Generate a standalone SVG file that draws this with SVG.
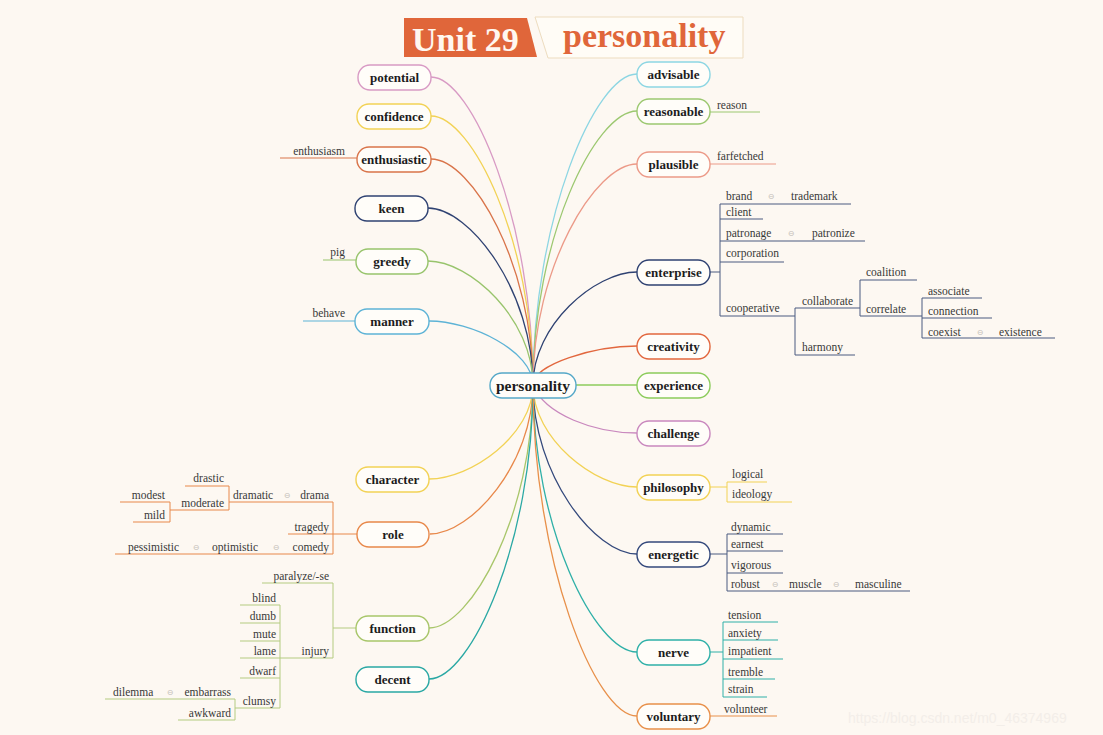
<svg xmlns="http://www.w3.org/2000/svg" width="1103" height="735" viewBox="0 0 1103 735">
<style>
.nr{fill:#fffdf9;stroke-width:1.4}
.nt{font-family:"Liberation Serif",serif;font-weight:bold;font-size:13px;fill:#1c1c1c;text-anchor:middle}
.big{font-size:15.5px}
.st{font-family:"Liberation Serif",serif;font-size:11.5px;fill:#383838}
.e{text-anchor:end}
.c{fill:none;stroke-width:1.3}
.s{fill:none;stroke-width:1}
.sym{font-family:"DejaVu Sans",sans-serif;font-size:8px;fill:#c4beb8;text-anchor:middle}
</style>
<rect width="1103" height="735" fill="#fdf8f2"/>
<g id="title">
<polygon points="535,17 743,17 743,58 548,58" fill="#fffcf6" stroke="#eddcbf" stroke-width="1"/>
<polygon points="404,18 527,18 537,57 404,57" fill="#e0663a"/>
<text x="412" y="51" font-family="Liberation Serif,serif" font-weight="bold" font-size="34" fill="#fff7f0">Unit 29</text>
<text x="563" y="47" font-family="Liberation Serif,serif" font-weight="bold" font-size="34" fill="#e0663a">personality</text>
</g>
<g id="connectors">
<path class="c" stroke="#d89ac4" d="M533,385 C533,222 472,77 431,77"/>
<path class="c" stroke="#f2d255" d="M533,385 C533,242 472,116 431,116"/>
<path class="c" stroke="#d9744a" d="M533,385 C533,265 472,159 431,159"/>
<path class="c" stroke="#2f4272" d="M533,385 C533,291 470,208 428,208"/>
<path class="c" stroke="#98c46c" d="M533,385 C533,319 470,261 428,261"/>
<path class="c" stroke="#5db3d6" d="M533,385 C533,351 471,321 429,321"/>
<path class="c" stroke="#f2d255" d="M533,385 C533,435 471,479 429,479"/>
<path class="c" stroke="#e8884a" d="M533,385 C533,464 471,534 430,534"/>
<path class="c" stroke="#a8c66a" d="M533,385 C533,514 471,628 429,628"/>
<path class="c" stroke="#2aa8a4" d="M533,385 C533,541 471,679 429,679"/>
<path class="c" stroke="#8dd6e3" d="M533,385 C533,220 595,74 637,74"/>
<path class="c" stroke="#9cc870" d="M533,385 C533,240 595,111 637,111"/>
<path class="c" stroke="#ec9a88" d="M533,385 C533,268 595,164 637,164"/>
<path class="c" stroke="#2f4272" d="M533,385 C533,325 595,272 637,272"/>
<path class="c" stroke="#e2673e" d="M533,385 C533,364 595,346 637,346"/>
<path class="c" stroke="#8ccc5c" d="M533,385 L637,385"/>
<path class="c" stroke="#c988be" d="M533,385 C545,415 595,433 637,433"/>
<path class="c" stroke="#f2d255" d="M533,385 C533,439 595,487 637,487"/>
<path class="c" stroke="#34497c" d="M533,385 C533,475 595,554 637,554"/>
<path class="c" stroke="#2fb0a8" d="M533,385 C533,527 595,652 637,652"/>
<path class="c" stroke="#e8904a" d="M533,385 C533,560 595,716 637,716"/>
<path class="s" stroke="#d9744a" d="M280,158 H357"/>
<path class="s" stroke="#98c46c" d="M323,260 H356"/>
<path class="s" stroke="#5db3d6" d="M303,321 H355"/>
<path class="s" stroke="#9cc870" d="M710,112 H760"/>
<path class="s" stroke="#ec9a88" d="M710,164 H776"/>
<path class="s" stroke="#4a5a80" d="M710,272 H720 M720,204 V316 M720,204 H851 M720,219 H763 M720,241 H865 M720,262 H784 M720,316 H795 M795,308 V355 M795,308 H860 M795,355 H855 M860,280 V316 M860,280 H917 M860,316 H922 M922,298 V338 M922,298 H982 M922,318 H992 M922,338 H1055"/>
<path class="s" stroke="#f2d255" d="M710,487 H727 M727,482 V502 M727,482 H767 M727,502 H792"/>
<path class="s" stroke="#4a5a80" d="M710,554 H727 M727,534 V591 M727,534 H783 M727,551 H783 M727,573 H783 M727,591 H910"/>
<path class="s" stroke="#2fb0a8" d="M710,652 H723 M723,622 V697 M723,622 H778 M723,640 H778 M723,659 H783 M723,679 H775 M723,697 H767"/>
<path class="s" stroke="#e8904a" d="M710,716 H777"/>
<path class="s" stroke="#e8884a" d="M288,534 H357 M333,502 V554 M229,502 H333 M115,554 H333 M229,486 V510 M185,486 H229 M170,510 H229 M170,502 V522 M120,502 H170 M133,522 H170"/>
<path class="s" stroke="#b4cb80" d="M333,628 H357 M333,583 V658 M262,583 H333 M240,658 H333 M280,605 V708 M240,605 H280 M240,623 H280 M240,641 H280 M240,678 H280 M235,708 H280 M235,699 V720 M105,699 H235 M178,720 H235"/>
</g>
<g id="n-personality"><rect class="nr" x="490" y="373" width="86" height="25" rx="12" stroke="#55a8c8" stroke-width="1.6"/><text class="nt big" x="533" y="390.5">personality</text></g>
<g id="n-potential"><rect class="nr" x="358" y="65" width="73" height="25" rx="12" stroke="#d89ac4"/><text class="nt" x="394.5" y="82">potential</text></g>
<g id="n-confidence"><rect class="nr" x="357" y="104" width="74" height="25" rx="12" stroke="#f2d255"/><text class="nt" x="394" y="121">confidence</text></g>
<g id="n-enthusiastic"><rect class="nr" x="357" y="147" width="74" height="25" rx="12" stroke="#d9744a"/><text class="nt" x="394" y="164">enthusiastic</text><text class="st e" x="345" y="155">enthusiasm</text></g>
<g id="n-keen"><rect class="nr" x="355" y="196" width="73" height="25" rx="12" stroke="#2f4272"/><text class="nt" x="391.5" y="213">keen</text></g>
<g id="n-greedy"><rect class="nr" x="356" y="249" width="72" height="25" rx="12" stroke="#98c46c"/><text class="nt" x="392" y="266">greedy</text><text class="st e" x="345" y="256">pig</text></g>
<g id="n-manner"><rect class="nr" x="355" y="309" width="74" height="25" rx="12" stroke="#5db3d6"/><text class="nt" x="392" y="326">manner</text><text class="st e" x="345" y="317">behave</text></g>
<g id="n-character"><rect class="nr" x="356" y="467" width="73" height="25" rx="12" stroke="#f2d255"/><text class="nt" x="392.5" y="484">character</text></g>
<g id="n-role"><rect class="nr" x="357" y="522" width="72" height="25" rx="12" stroke="#e8884a"/><text class="nt" x="393" y="539">role</text>
<text class="st e" x="224" y="482">drastic</text><text class="st e" x="224" y="507">moderate</text><text class="st e" x="165" y="499">modest</text><text class="st e" x="165" y="519">mild</text>
<text class="st" x="233" y="499">dramatic</text><text class="sym" x="287" y="498">⊖</text><text class="st e" x="329" y="499">drama</text>
<text class="st e" x="329" y="531">tragedy</text>
<text class="st" x="128" y="551">pessimistic</text><text class="sym" x="196" y="550">⊖</text><text class="st" x="212" y="551">optimistic</text><text class="sym" x="276" y="550">⊖</text><text class="st e" x="329" y="551">comedy</text></g>
<g id="n-function"><rect class="nr" x="356" y="616" width="73" height="25" rx="12" stroke="#a8c66a"/><text class="nt" x="392.5" y="633">function</text>
<text class="st e" x="329" y="580">paralyze/-se</text><text class="st e" x="329" y="655">injury</text>
<text class="st e" x="276" y="602">blind</text><text class="st e" x="276" y="620">dumb</text><text class="st e" x="276" y="638">mute</text><text class="st e" x="276" y="655">lame</text><text class="st e" x="276" y="675">dwarf</text><text class="st e" x="276" y="705">clumsy</text>
<text class="st" x="113" y="696">dilemma</text><text class="sym" x="170" y="695">⊖</text><text class="st e" x="231" y="696">embarrass</text><text class="st e" x="231" y="717">awkward</text></g>
<g id="n-decent"><rect class="nr" x="356" y="667" width="73" height="25" rx="12" stroke="#2aa8a4"/><text class="nt" x="392.5" y="684">decent</text></g>
<g id="n-advisable"><rect class="nr" x="637" y="62" width="73" height="25" rx="12" stroke="#8dd6e3"/><text class="nt" x="673.5" y="79">advisable</text></g>
<g id="n-reasonable"><rect class="nr" x="637" y="99" width="73" height="25" rx="12" stroke="#9cc870"/><text class="nt" x="673.5" y="116">reasonable</text><text class="st" x="717" y="109">reason</text></g>
<g id="n-plausible"><rect class="nr" x="637" y="152" width="73" height="25" rx="12" stroke="#ec9a88"/><text class="nt" x="673.5" y="169">plausible</text><text class="st" x="717" y="160">farfetched</text></g>
<g id="n-enterprise"><rect class="nr" x="637" y="260" width="73" height="25" rx="12" stroke="#2f4272"/><text class="nt" x="673.5" y="277">enterprise</text>
<text class="st" x="726" y="200">brand</text><text class="sym" x="771" y="199">⊖</text><text class="st" x="791" y="200">trademark</text>
<text class="st" x="726" y="216">client</text>
<text class="st" x="726" y="237">patronage</text><text class="sym" x="791" y="236">⊖</text><text class="st" x="812" y="237">patronize</text>
<text class="st" x="726" y="257">corporation</text><text class="st" x="726" y="312">cooperative</text>
<text class="st" x="802" y="305">collaborate</text><text class="st" x="802" y="351">harmony</text>
<text class="st" x="866" y="276">coalition</text><text class="st" x="866" y="313">correlate</text>
<text class="st" x="928" y="295">associate</text><text class="st" x="928" y="315">connection</text>
<text class="st" x="928" y="336">coexist</text><text class="sym" x="980" y="335">⊖</text><text class="st" x="999" y="336">existence</text></g>
<g id="n-creativity"><rect class="nr" x="637" y="334" width="73" height="25" rx="12" stroke="#e2673e"/><text class="nt" x="673.5" y="351">creativity</text></g>
<g id="n-experience"><rect class="nr" x="637" y="373" width="73" height="25" rx="12" stroke="#8ccc5c"/><text class="nt" x="673.5" y="390">experience</text></g>
<g id="n-challenge"><rect class="nr" x="637" y="421" width="73" height="25" rx="12" stroke="#c988be"/><text class="nt" x="673.5" y="438">challenge</text></g>
<g id="n-philosophy"><rect class="nr" x="637" y="475" width="73" height="25" rx="12" stroke="#f2d255"/><text class="nt" x="673.5" y="492">philosophy</text><text class="st" x="732" y="478">logical</text><text class="st" x="732" y="498">ideology</text></g>
<g id="n-energetic"><rect class="nr" x="637" y="542" width="73" height="25" rx="12" stroke="#34497c"/><text class="nt" x="673.5" y="559">energetic</text>
<text class="st" x="731" y="531">dynamic</text><text class="st" x="731" y="548">earnest</text><text class="st" x="731" y="569">vigorous</text>
<text class="st" x="731" y="588">robust</text><text class="sym" x="775" y="587">⊖</text><text class="st" x="789" y="588">muscle</text><text class="sym" x="836" y="587">⊖</text><text class="st" x="855" y="588">masculine</text></g>
<g id="n-nerve"><rect class="nr" x="637" y="640" width="73" height="25" rx="12" stroke="#2fb0a8"/><text class="nt" x="673.5" y="657">nerve</text>
<text class="st" x="728" y="619">tension</text><text class="st" x="728" y="637">anxiety</text><text class="st" x="728" y="655">impatient</text><text class="st" x="728" y="676">tremble</text><text class="st" x="728" y="693">strain</text></g>
<g id="n-voluntary"><rect class="nr" x="637" y="704" width="73" height="25" rx="12" stroke="#e8904a"/><text class="nt" x="673.5" y="721">voluntary</text><text class="st" x="724" y="713">volunteer</text></g>
<text x="848" y="723" font-family="Liberation Sans,sans-serif" font-size="14" fill="#f3eee9">https://blog.csdn.net/m0_46374969</text>
</svg>
